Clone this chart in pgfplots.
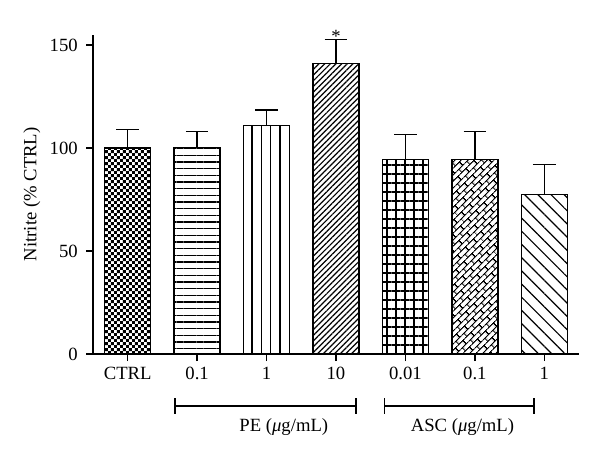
\documentclass[border=0pt]{standalone}
\usepackage{pgfplots}
\pgfplotsset{compat=1.18}
\usepackage{fontspec}
\setmainfont{Liberation Serif}
\usetikzlibrary{patterns,patterns.meta}

\tikzdeclarepattern{
  name=mychecker, type=uncolored,
  bounding box={(0,0) and (4.8pt,4.8pt)},
  tile size={(4.8pt,4.8pt)},
  code={\fill (0,0) rectangle (2.4pt,2.4pt); \fill (2.4pt,2.4pt) rectangle (4.8pt,4.8pt);}
}
\tikzdeclarepattern{
  name=mybricks, type=uncolored,
  bounding box={(0,0) and (8pt,7pt)},
  tile size={(8pt,7pt)},
  tile transformation={rotate=45},
  code={\draw[line width=0.9pt] (-0.5pt,1.75pt) -- (8.5pt,1.75pt) (-0.5pt,5.25pt) -- (8.5pt,5.25pt)
        (2pt,1.75pt) -- (2pt,5.25pt) (6pt,5.25pt) -- (6pt,7.5pt) (6pt,-0.5pt) -- (6pt,1.75pt);}
}

\begin{document}
\fontsize{14}{16}\selectfont
\begin{tikzpicture}
\useasboundingbox (0,0) rectangle (450pt,346.5pt);
\begin{axis}[
  at={(69.75pt,81pt)}, anchor=south west,
  scale only axis, width=364.5pt, height=239.5pt,
  xmin=-0.5, xmax=6.5, ymin=0, ymax=155,
  axis x line*=bottom, axis y line*=left,
  axis line style={line width=1pt, -},
  xtick={0,...,6},
  xticklabels={CTRL,0.1,1,10,0.01,0.1,1},
  ytick={0,50,100,150},
  yticklabels={0,50,100,150},
  tick align=outside, major tick length=5.25pt,
  tick style={line width=1pt, black},
  /pgf/number format/assume math mode=true,
  tick label style={font=\fontsize{14}{16}\selectfont},
  yticklabel style={inner sep=0pt, xshift=-6pt},
  ylabel={Nitrite (\% CTRL)},
  ylabel style={at={(axis description cs:-0.1255,0.5)}, anchor=center, font=\fontsize{14}{16}\selectfont},
  clip=false,
  every axis plot/.append style={ybar, bar shift=0pt, bar width=34.5pt, draw=black, line width=1pt,
    error bars/y dir=plus, error bars/y explicit,
    error bars/error bar style={line width=1pt, black, solid},
    error bars/error mark options={rotate=90, line width=1pt, black, mark size=8.5pt}},
]
\addplot[pattern=mychecker] coordinates {(0,100) +- (0,9.1)};
\addplot[pattern={Lines[angle=0,distance=5pt,line width=0.9pt]}] coordinates {(1,100.3) +- (0,7.8)};
\addplot[pattern={Lines[angle=90,distance=7pt,line width=0.9pt]}] coordinates {(2,110.8) +- (0,7.6)};
\addplot[pattern={Lines[angle=45,distance=3pt,line width=0.9pt]}] coordinates {(3,140.9) +- (0,11.7)};
\addplot[pattern={Hatch[angle=0,distance=6.75pt,line width=0.8pt]}] coordinates {(4,94.5) +- (0,12.1)};
\addplot[pattern=mybricks] coordinates {(5,94.5) +- (0,13.6)};
\addplot[pattern={Lines[angle=-45,distance=7pt,line width=0.9pt]}] coordinates {(6,77.3) +- (0,14.6)};

\node[anchor=base, inner sep=0pt] at (axis cs:3,151) {*};

\draw[line width=1pt] (axis cs:0.681,-25.2) -- (axis cs:3.288,-25.2);
\draw[line width=1pt] (axis cs:0.681,-21.5) -- (axis cs:0.681,-29.1);
\draw[line width=1pt] (axis cs:3.288,-21.5) -- (axis cs:3.288,-29.1);
\draw[line width=1pt] (axis cs:3.696,-25.2) -- (axis cs:5.852,-25.2);
\draw[line width=1pt] (axis cs:3.696,-21.5) -- (axis cs:3.696,-29.1);
\draw[line width=1pt] (axis cs:5.852,-21.5) -- (axis cs:5.852,-29.1);
\node[anchor=base] at (axis cs:2.248,-37.7) {PE ({\itshape μ}g/mL)};
\node[anchor=base] at (axis cs:4.822,-37.7) {ASC ({\itshape μ}g/mL)};
\end{axis}
\end{tikzpicture}
\end{document}
